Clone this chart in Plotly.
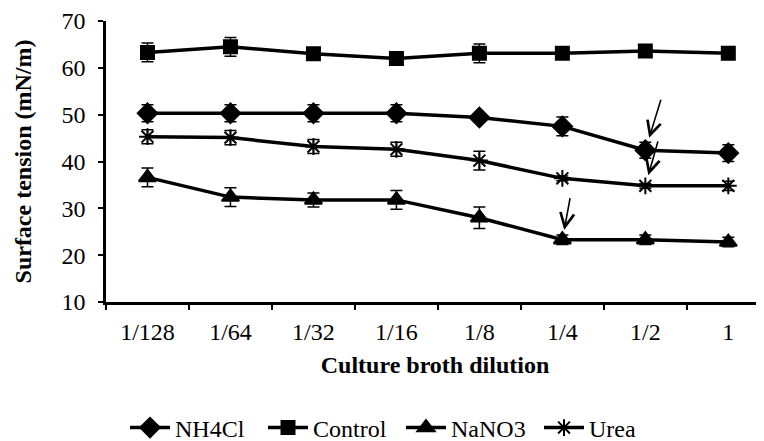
import plotly.graph_objects as go

categories = ["1/128", "1/64", "1/32", "1/16", "1/8", "1/4", "1/2", "1"]

nh4cl = [50.3, 50.3, 50.3, 50.3, 49.4, 47.5, 42.4, 41.8]
nh4cl_err = [1.8, 1.8, 1.8, 1.8, 0.3, 2.0, 1.7, 1.8]

control = [63.3, 64.5, 63.0, 62.0, 63.1, 63.1, 63.6, 63.1]
control_err = [2.0, 2.0, 0.5, 0.3, 2.0, 0.3, 0.3, 0.3]

nano3 = [36.6, 32.4, 31.8, 31.8, 28.0, 23.3, 23.3, 22.8]
nano3_err = [2.0, 2.0, 1.5, 2.0, 2.3, 1.0, 1.0, 1.0]

urea = [45.3, 45.1, 43.2, 42.6, 40.2, 36.4, 34.8, 34.8]
urea_err = [1.5, 1.5, 1.5, 1.5, 2.0, 0.5, 0.5, 1.0]

font_family = "Liberation Serif"
FS = 24

series = [
    ("NH4Cl", nh4cl, nh4cl_err, "diamond", 15),
    ("Control", control, control_err, "square", 13),
    ("NaNO3", nano3, nano3_err, "triangle-up", 15),
    ("Urea", urea, urea_err, "asterisk-open", 14),
]

fig = go.Figure()
for name, vals, errs, sym, size in series:
    fig.add_trace(go.Scatter(
        x=categories, y=vals, name=name, mode="lines+markers",
        line=dict(color="black", width=3.5),
        marker=dict(symbol=sym, size=size, color="black",
                    line=dict(color="black", width=2)),
        error_y=dict(type="data", array=errs, visible=True,
                     color="black", thickness=1.5, width=6),
    ))

# arrows marking points
arrow_pts = [("1/2", nh4cl[6], 16, -52, 13),
             ("1/2", urea[6], 13, -46, 11),
             ("1/4", nano3[5], 8, -43, 10)]
for xx, yy, ax, ay, so in arrow_pts:
    fig.add_annotation(x=xx, y=yy, ax=ax, ay=ay, text="", showarrow=True,
                       arrowhead=5, arrowsize=1.7, arrowwidth=1.6,
                       arrowcolor="black", standoff=so)

W, H = 756, 433
fig.update_layout(
    width=W, height=H,
    margin=dict(l=98, r=0, t=13, b=139),
    paper_bgcolor="white", plot_bgcolor="white",
    font=dict(family=font_family, size=FS, color="black"),
    showlegend=True,
    legend=dict(orientation="h", xref="container", yref="container",
                x=117 / W, xanchor="left", y=1 - 420 / H,
                yanchor="middle", font=dict(size=FS, family=font_family),
                entrywidth=83, entrywidthmode="pixels", itemwidth=40,
                bgcolor="rgba(0,0,0,0)"),
    xaxis=dict(
        range=[-0.5, 7.43], showline=True, linecolor="black", linewidth=2.5,
        ticks="outside", tickson="boundaries", ticklen=5, tickwidth=2,
        tickcolor="black", showgrid=False, zeroline=False, automargin=False,
        ticklabelstandoff=6,
        title=dict(text="<b>Culture broth dilution</b>", standoff=13,
                   font=dict(size=FS, family=font_family)),
    ),
    yaxis=dict(
        range=[10, 70], dtick=10, showline=True, linecolor="black",
        linewidth=2.5, ticks="outside", ticklen=5, tickwidth=2,
        tickcolor="black", showgrid=False, zeroline=False, automargin=False,
        ticklabelstandoff=8,
        title=dict(text="<b>Surface tension (mN/m)</b>", standoff=24,
                   font=dict(size=FS, family=font_family)),
    ),
)

fig.write_html("out.html")
